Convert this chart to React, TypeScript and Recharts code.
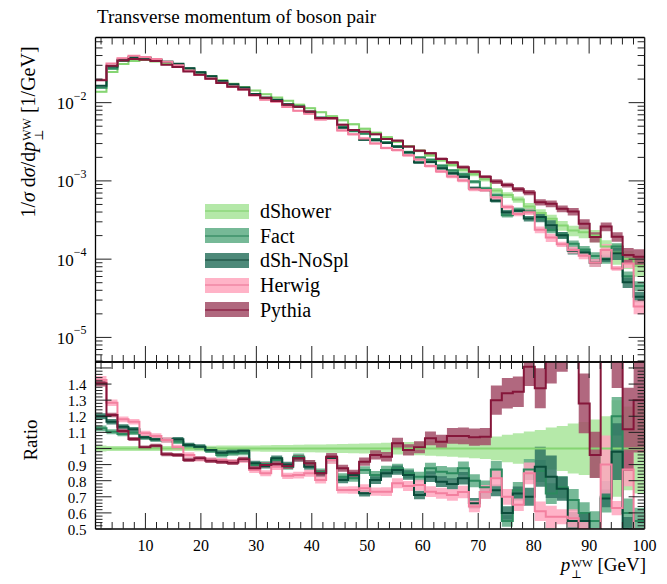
import React from 'react';
import { ComposedChart, Line, Area, XAxis, YAxis } from 'recharts';

const FONT = '"Liberation Serif", "DejaVu Serif", serif';

// binning of the histogram
const X_MIN = 1;
const X_MAX = 100;
const N_BINS = 50;

// dShower: 1/sigma dsigma/dpT [1/GeV], also the reference of the ratio panel
const dShowerValues = [
  0.01375, 0.0246, 0.0312, 0.034, 0.0351, 0.0335, 0.0316, 0.0298, 0.0269, 0.0242,
  0.0219, 0.0194, 0.0175, 0.0158, 0.01425, 0.01285, 0.0116, 0.0106, 0.00943, 0.0085,
  0.00755, 0.00671, 0.00596, 0.0053, 0.00464, 0.00412, 0.00361, 0.00316, 0.00277, 0.00242,
  0.00212, 0.00183, 0.0016, 0.00139, 0.00122, 0.00105, 0.000755, 0.000661, 0.000579, 0.000471,
  0.000389, 0.000328, 0.000269, 0.000232, 0.000221, 0.0002, 0.000145, 0.000121, 0.000101, 0.0000826,
];
const dShowerErr = [
  0.018, 0.016, 0.015, 0.015, 0.015, 0.015, 0.015, 0.016, 0.016, 0.017,
  0.017, 0.018, 0.018, 0.019, 0.019, 0.02, 0.021, 0.022, 0.023, 0.024,
  0.025, 0.026, 0.028, 0.029, 0.031, 0.033, 0.035, 0.037, 0.04, 0.042,
  0.045, 0.048, 0.052, 0.056, 0.06, 0.066, 0.075, 0.085, 0.095, 0.105,
  0.115, 0.13, 0.14, 0.155, 0.165, 0.18, 0.2, 0.3, 0.26, 0.28,
];

// ratios to dShower
const factRatio = [
  1.125, 1.104, 1.09, 1.098, 1.07, 1.057, 1.053, 1.042, 1.016, 1.007,
  0.986, 0.96, 0.97, 0.974, 0.898, 0.904, 0.929, 0.885, 0.949, 0.908,
  0.856, 0.929, 0.825, 0.815, 0.866, 0.835, 0.866, 0.877, 0.846, 0.825,
  0.877, 0.856, 0.846, 0.877, 0.8, 0.76, 0.87, 0.55, 0.74, 0.87,
  0.86, 0.72, 0.76, 0.68, 0.6, 0.55, 0.7, 1.2, 0.6, 0.55,
];
const factErr = [
  0.016, 0.014, 0.013, 0.013, 0.013, 0.013, 0.013, 0.014, 0.014, 0.015,
  0.015, 0.016, 0.016, 0.017, 0.018, 0.018, 0.019, 0.02, 0.021, 0.022,
  0.023, 0.024, 0.025, 0.026, 0.028, 0.03, 0.031, 0.033, 0.035, 0.037,
  0.04, 0.042, 0.045, 0.048, 0.05, 0.055, 0.06, 0.065, 0.07, 0.075,
  0.08, 0.09, 0.09, 0.1, 0.11, 0.11, 0.14, 0.1, 0.15, 0.15,
];

const noSplRatio = [
  1.2, 1.166, 1.135, 1.119, 1.07, 1.057, 1.053, 1.057, 1.022, 1.011,
  0.991, 0.974, 0.98, 0.986, 0.908, 0.891, 0.939, 0.9, 0.939, 0.887,
  0.846, 0.939, 0.804, 0.835, 0.722, 0.804, 0.846, 0.866, 0.835, 0.711,
  0.825, 0.794, 0.78, 0.815, 0.66, 0.73, 0.74, 0.6, 0.72, 0.7,
  0.887, 0.825, 0.75, 0.55, 0.55, 0.45, 0.69, 0.98, 0.5, 0.4,
];
const noSplErr = [
  0.016, 0.014, 0.013, 0.013, 0.013, 0.013, 0.013, 0.014, 0.014, 0.015,
  0.015, 0.016, 0.016, 0.017, 0.018, 0.018, 0.019, 0.02, 0.021, 0.022,
  0.023, 0.024, 0.025, 0.026, 0.028, 0.03, 0.031, 0.033, 0.035, 0.037,
  0.04, 0.042, 0.045, 0.048, 0.05, 0.055, 0.05, 0.07, 0.06, 0.08,
  0.14, 0.16, 0.1, 0.1, 0.1, 0.12, 0.08, 0.18, 0.15, 0.15,
];

const herwigRatio = [
  1.425, 1.284, 1.181, 1.166, 1.094, 1.078, 1.053, 1.007, 0.96, 0.935,
  0.929, 0.924, 0.918, 0.929, 0.866, 0.846, 0.887, 0.83, 0.835, 0.846,
  0.804, 0.929, 0.742, 0.742, 0.753, 0.732, 0.732, 0.784, 0.767, 0.773,
  0.732, 0.722, 0.711, 0.73, 0.64, 0.73, 0.815, 0.7, 0.65, 0.846,
  0.61, 0.576, 0.576, 0.566, 0.5, 0.45, 0.9, 0.63, 0.87, 0.3,
];
const herwigErr = [
  0.018, 0.016, 0.015, 0.015, 0.015, 0.015, 0.016, 0.016, 0.017, 0.017,
  0.018, 0.018, 0.019, 0.02, 0.021, 0.022, 0.023, 0.024, 0.025, 0.026,
  0.027, 0.028, 0.03, 0.031, 0.033, 0.035, 0.037, 0.039, 0.041, 0.043,
  0.045, 0.048, 0.05, 0.053, 0.056, 0.06, 0.06, 0.07, 0.06, 0.08,
  0.1, 0.12, 0.08, 0.1, 0.1, 0.12, 0.2, 0.07, 0.12, 0.2,
];

const pythiaRatio = [
  1.405, 1.208, 1.109, 1.059, 1.007, 1.017, 0.964, 0.96, 0.929, 0.939,
  0.924, 0.918, 0.912, 0.933, 0.877, 0.898, 0.904, 0.89, 0.939, 0.908,
  0.846, 0.949, 0.877, 0.846, 0.918, 0.96, 0.949, 1.032, 0.991, 1.007,
  1.063, 1.042, 1.078, 1.078, 1.07, 1.073, 1.3, 1.343, 1.353, 1.508,
  1.374, 1.56, 1.64, 1.75, 1.28, 0.96, 1.8, 1.6, 1.12, 1.3,
];
const pythiaErr = [
  0.014, 0.012, 0.012, 0.012, 0.012, 0.012, 0.013, 0.013, 0.014, 0.014,
  0.015, 0.015, 0.016, 0.017, 0.018, 0.018, 0.019, 0.02, 0.021, 0.022,
  0.023, 0.024, 0.025, 0.026, 0.028, 0.03, 0.031, 0.033, 0.035, 0.037,
  0.04, 0.042, 0.045, 0.048, 0.05, 0.05, 0.07, 0.07, 0.07, 0.08,
  0.09, 0.1, 0.1, 0.11, 0.145, 0.15, 0.13, 0.14, 0.23, 0.25,
];

const SERIES = [
  { key: 'dShower', name: 'dShower', ratio: null as number[] | null, err: dShowerErr, line: '#86d573', fill: '#a8e59a' },
  { key: 'fact', name: 'Fact', ratio: factRatio, err: factErr, line: '#2c8a5e', fill: '#5fad86' },
  { key: 'noSpl', name: 'dSh-NoSpl', ratio: noSplRatio, err: noSplErr, line: '#0b4c3a', fill: '#2f7562' },
  { key: 'herwig', name: 'Herwig', ratio: herwigRatio, err: herwigErr, line: '#f3809f', fill: '#ffa6be' },
  { key: 'pythia', name: 'Pythia', ratio: pythiaRatio, err: pythiaErr, line: '#85163a', fill: '#a34e68' },
];

// axis labels
const X_LABELS = [10, 20, 30, 40, 50, 60, 70, 80, 90, 100];
const LOG_DECADES = [1e-6, 1e-5, 1e-4, 1e-3, 1e-2];
const RATIO_LABELS = [0.5, 0.6, 0.7, 0.8, 0.9, 1, 1.1, 1.2, 1.3, 1.4];

const LOG_MIN = 4.85e-6;
const LOG_MAX = 0.068;
const R_MIN = 0.5;
const R_MAX = 1.537;

const binW = (X_MAX - X_MIN) / N_BINS;
const rows = Array.from({ length: N_BINS + 1 }, (_, i) => {
  const b = Math.min(i, N_BINS - 1);
  const row: any = { x: X_MIN + i * binW };
  SERIES.forEach((s) => {
    const r = s.ratio ? s.ratio[b] : 1;
    const e = s.err[b];
    const v = dShowerValues[b] * r;
    row[s.key] = v;
    row[s.key + 'Band'] = [v * (1 - e), v * (1 + e)];
    row[s.key + 'R'] = r;
    row[s.key + 'RBand'] = [r * (1 - e), r * (1 + e)];
  });
  return row;
});

const xTicks = Array.from({ length: 50 }, (_, i) => 2 + 2 * i);
const logTicks = LOG_DECADES.flatMap((d) => [1, 2, 3, 4, 5, 6, 7, 8, 9].map((k) => k * d))
  .filter((v) => v >= LOG_MIN && v <= LOG_MAX);
const ratioTicks = Array.from({ length: 51 }, (_, i) => Math.round((0.5 + 0.02 * i) * 100) / 100);

const isMajorX = (v: number) => X_LABELS.includes(v);
const isMajorLog = (v: number) => Math.abs(Math.log10(v) - Math.round(Math.log10(v))) < 1e-6;
const isMajorR = (v: number) => Math.abs(v * 10 - Math.round(v * 10)) < 1e-6;

const GAP = 10;
const MAJOR = 16;
const MINOR = 7;
const TICK_COLOR = '#222';
const AXIS = { stroke: '#000', strokeWidth: 1.3 };

type Side = 'left' | 'right' | 'top' | 'bottom';

const makeTick = (side: Side, isMajor: (v: number) => boolean, label?: (v: number) => React.ReactNode, fontSize = 17) =>
  (props: any) => {
    const { x, y, payload } = props;
    const v = payload.value;
    const len = isMajor(v) ? MAJOR : MINOR;
    if (side === 'left') {
      const ax = x + GAP;
      return (
        <g>
          <line x1={ax} x2={ax + len} y1={y} y2={y} stroke={TICK_COLOR} strokeWidth={1} />
          {label && isMajor(v) ? (
            <text x={ax - 9} y={y + 1} textAnchor="end" dominantBaseline="central" fontSize={fontSize} fontFamily={FONT} fill="#000">
              {label(v)}
            </text>
          ) : null}
        </g>
      );
    }
    if (side === 'right') {
      const ax = x - GAP;
      return <line x1={ax} x2={ax - len} y1={y} y2={y} stroke={TICK_COLOR} strokeWidth={1} />;
    }
    if (side === 'top') {
      const ay = y + GAP;
      return <line x1={x} x2={x} y1={ay} y2={ay + len} stroke={TICK_COLOR} strokeWidth={1} />;
    }
    const ay = y - GAP;
    return (
      <g>
        <line x1={x} x2={x} y1={ay} y2={ay - len} stroke={TICK_COLOR} strokeWidth={1} />
        {label && isMajor(v) ? (
          <text x={x} y={ay + 16} textAnchor="middle" dominantBaseline="central" fontSize={fontSize} fontFamily={FONT} fill="#000">
            {label(v)}
          </text>
        ) : null}
      </g>
    );
  };

const logLabel = (v: number) => (
  <>
    10<tspan dy={-8} fontSize={12}>{'\u2212' + Math.abs(Math.round(Math.log10(v)))}</tspan>
  </>
);
const ratioLabel = (v: number) => (RATIO_LABELS.includes(v) ? (v === 1 ? '1' : v.toFixed(1)) : '');
const xLabel = (v: number) => String(v);

const PT = () => (
  <span style={{ whiteSpace: 'nowrap' }}>
    <i>p</i>
    <span style={{ display: 'inline-flex', flexDirection: 'column', fontSize: '0.6em', lineHeight: 1, verticalAlign: '0.37em', marginLeft: 1 }}>
      <span>WW</span>
      <span>{'\u22a5'}</span>
    </span>
  </span>
);

const MARGIN_X = { left: 5.5, right: 12.4 };

export default function App() {
  return (
    <div style={{ position: 'absolute', left: 0, top: 0, width: 667, height: 584, background: '#fff', fontFamily: FONT, color: '#000', overflow: 'hidden' }}>
      <div style={{ position: 'absolute', left: 97, top: 5, fontSize: 19, lineHeight: '24px', whiteSpace: 'nowrap' }}>
        Transverse momentum of boson pair
      </div>

      <div style={{ position: 'absolute', left: 0, top: 0 }}>
        <ComposedChart width={667} height={372} data={rows} margin={{ top: 27.5, bottom: 0, ...MARGIN_X }}>
          <XAxis xAxisId="b" dataKey="x" type="number" domain={[X_MIN, X_MAX]} allowDataOverflow ticks={xTicks} interval={0}
            height={10} tickSize={0} tickMargin={GAP} tickLine={false} axisLine={AXIS} tick={makeTick('bottom', isMajorX)} />
          <XAxis xAxisId="t" orientation="top" dataKey="x" type="number" domain={[X_MIN, X_MAX]} allowDataOverflow ticks={xTicks} interval={0}
            height={10} tickSize={0} tickMargin={GAP} tickLine={false} axisLine={AXIS} tick={makeTick('top', isMajorX)} />
          <YAxis yAxisId="l" type="number" scale="log" domain={[LOG_MIN, LOG_MAX]} allowDataOverflow ticks={logTicks} interval={0}
            width={90} tickSize={0} tickMargin={GAP} tickLine={false} axisLine={AXIS} tick={makeTick('left', isMajorLog, logLabel)} />
          <YAxis yAxisId="r" orientation="right" type="number" scale="log" domain={[LOG_MIN, LOG_MAX]} allowDataOverflow ticks={logTicks} interval={0}
            width={10} tickSize={0} tickMargin={GAP} tickLine={false} axisLine={AXIS} tick={makeTick('right', isMajorLog)} />
          {SERIES.flatMap((s) => [
            <Area key={s.key + 'a'} xAxisId="b" yAxisId="l" dataKey={s.key + 'Band'} type="stepAfter" stroke="none"
              fill={s.fill} fillOpacity={0.85} isAnimationActive={false} />,
            <Line key={s.key + 'l'} xAxisId="b" yAxisId="l" dataKey={s.key} type="stepAfter" stroke={s.line} strokeWidth={2}
              dot={false} activeDot={false} isAnimationActive={false} />,
          ])}
        </ComposedChart>
      </div>

      <div style={{ position: 'absolute', left: 0, top: 352 }}>
        <ComposedChart width={667} height={222} data={rows} margin={{ top: 0, bottom: 0, ...MARGIN_X }}>
          <XAxis xAxisId="b" dataKey="x" type="number" domain={[X_MIN, X_MAX]} allowDataOverflow ticks={xTicks} interval={0}
            height={45} tickSize={0} tickMargin={GAP} tickLine={false} axisLine={AXIS} tick={makeTick('bottom', isMajorX, xLabel, 16)} />
          <XAxis xAxisId="t" orientation="top" dataKey="x" type="number" domain={[X_MIN, X_MAX]} allowDataOverflow ticks={xTicks} interval={0}
            height={10} tickSize={0} tickMargin={GAP} tickLine={false} axisLine={AXIS} tick={makeTick('top', isMajorX)} />
          <YAxis yAxisId="l" type="number" domain={[R_MIN, R_MAX]} allowDataOverflow ticks={ratioTicks} interval={0}
            width={90} tickSize={0} tickMargin={GAP} tickLine={false} axisLine={AXIS}
            tick={makeTick('left', isMajorR, ratioLabel, 15)} />
          <YAxis yAxisId="r" orientation="right" type="number" domain={[R_MIN, R_MAX]} allowDataOverflow ticks={ratioTicks} interval={0}
            width={10} tickSize={0} tickMargin={GAP} tickLine={false} axisLine={AXIS} tick={makeTick('right', isMajorR)} />
          {SERIES.flatMap((s) => [
            <Area key={s.key + 'a'} xAxisId="b" yAxisId="l" dataKey={s.key + 'RBand'} type="stepAfter" stroke="none"
              fill={s.fill} fillOpacity={0.85} isAnimationActive={false} />,
            <Line key={s.key + 'l'} xAxisId="b" yAxisId="l" dataKey={s.key + 'R'} type="stepAfter" stroke={s.line} strokeWidth={2}
              dot={false} activeDot={false} isAnimationActive={false} />,
          ])}
        </ComposedChart>
      </div>

      <div style={{ position: 'absolute', left: 30, top: 132, transform: 'translate(-50%, -50%) rotate(-90deg)', fontSize: 20, whiteSpace: 'nowrap', lineHeight: '26px' }}>
        1/<i>σ</i> d<i>σ</i>/d<PT /> [1/GeV]
      </div>
      <div style={{ position: 'absolute', left: 31, top: 440, transform: 'translate(-50%, -50%) rotate(-90deg)', fontSize: 19, whiteSpace: 'nowrap', lineHeight: '24px' }}>
        Ratio
      </div>
      <div style={{ position: 'absolute', right: 667 - 646, top: 555, fontSize: 19, whiteSpace: 'nowrap', lineHeight: '20px' }}>
        <PT /> [GeV]
      </div>

      <div style={{ position: 'absolute', left: 205, top: 199 }}>
        {SERIES.map((s) => (
          <div key={s.key} style={{ display: 'flex', alignItems: 'center', height: 24.6 }}>
            <div style={{ position: 'relative', width: 44, height: 15, background: s.fill, opacity: 0.85 }}>
              <div style={{ position: 'absolute', left: 0, right: 0, top: 6.5, height: 2, background: s.line }} />
            </div>
            <span style={{ marginLeft: 11, fontSize: 20, lineHeight: '24px' }}>{s.name}</span>
          </div>
        ))}
      </div>
    </div>
  );
}
